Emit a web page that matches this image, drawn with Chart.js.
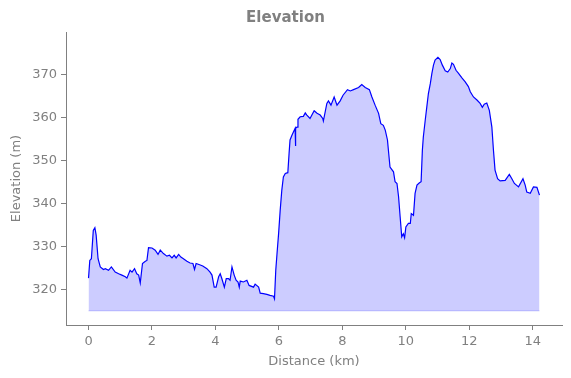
<!DOCTYPE html>
<html>
<head>
<meta charset="utf-8">
<script src="https://cdn.jsdelivr.net/npm/chart.js@4/dist/chart.umd.min.js"></script>
<style>
  html, body { margin: 0; padding: 0; background: #fff; }
  .chart-container { width: 571px; height: 378px; position: relative; }
</style>
</head>
<body>
<div class="chart-container">
  <canvas id="chart"></canvas>
</div>
<script>
// profile
const distanceKm = [
  0.00, 0.04, 0.09, 0.15, 0.20, 0.24, 0.30, 0.37, 0.47, 0.53, 0.63, 0.72, 0.84, 0.95,
  1.05, 1.16, 1.21, 1.31, 1.37, 1.45, 1.52, 1.58, 1.63, 1.70, 1.79, 1.84, 1.89, 2.00,
  2.10, 2.19, 2.26, 2.36, 2.47, 2.55, 2.63, 2.70, 2.76, 2.84, 2.91, 2.99, 3.10, 3.20,
  3.29, 3.34, 3.39, 3.50, 3.60, 3.73, 3.83, 3.89, 3.96, 4.02, 4.10, 4.15, 4.20, 4.28,
  4.34, 4.41, 4.46, 4.52, 4.59, 4.65, 4.71, 4.75, 4.78, 4.88, 4.99, 5.06, 5.20, 5.25,
  5.36, 5.41, 5.51, 5.62, 5.72, 5.83, 5.86, 5.90, 5.94, 5.99, 6.04, 6.09, 6.14, 6.20,
  6.28, 6.32, 6.35, 6.41, 6.46, 6.51, 6.52, 6.53, 6.57, 6.60, 6.67, 6.77, 6.83, 6.88,
  6.98, 7.11, 7.20, 7.30, 7.38, 7.40, 7.51, 7.56, 7.64, 7.74, 7.83, 7.93, 8.02, 8.16,
  8.25, 8.35, 8.51, 8.61, 8.72, 8.85, 8.93, 9.03, 9.14, 9.21, 9.29, 9.35, 9.42, 9.45,
  9.50, 9.61, 9.66, 9.72, 9.77, 9.82, 9.87, 9.92, 9.96, 10.00, 10.08, 10.14, 10.17, 10.24,
  10.29, 10.35, 10.42, 10.48, 10.52, 10.55, 10.61, 10.66, 10.71, 10.77, 10.82, 10.87, 10.92, 11.01,
  11.08, 11.15, 11.24, 11.32, 11.40, 11.45, 11.50, 11.58, 11.66, 11.76, 11.87, 11.97, 12.03, 12.13,
  12.24, 12.34, 12.41, 12.47, 12.55, 12.63, 12.71, 12.76, 12.81, 12.89, 12.97, 13.13, 13.26, 13.34,
  13.42, 13.55, 13.69, 13.76, 13.81, 13.92, 14.02, 14.13, 14.21
];
const elevationM = [
  322.6, 326.7, 327.1, 333.7, 334.3, 332.6, 327.1, 325.2, 324.6, 324.8, 324.4, 325.2, 324.0, 323.6,
  323.3, 322.9, 322.6, 324.4, 324.0, 324.8, 323.6, 323.3, 321.5, 326.0, 326.5, 326.7, 329.7, 329.6,
  329.1, 328.1, 329.1, 328.3, 327.7, 327.9, 327.3, 327.9, 327.3, 328.1, 327.5, 327.1, 326.5, 326.1,
  326.0, 324.6, 326.0, 325.7, 325.4, 324.8, 324.0, 323.3, 320.5, 320.5, 322.9, 323.6, 322.5, 320.5,
  322.5, 322.5, 322.1, 325.2, 323.3, 322.1, 321.7, 320.5, 321.9, 321.7, 322.1, 320.9, 320.5, 321.2,
  320.5, 319.1, 319.0, 318.8, 318.6, 318.4, 317.8, 324.4, 328.3, 333.0, 338.4, 343.0, 346.1, 346.9,
  347.1, 351.6, 354.7, 355.8, 356.6, 357.4, 353.3, 357.4, 357.7, 359.5, 360.1, 360.2, 361.0, 360.5,
  359.7, 361.5, 360.9, 360.5, 359.7, 359.1, 363.2, 363.8, 362.8, 364.7, 362.8, 363.8, 365.1, 366.4,
  366.1, 366.4, 366.9, 367.6, 366.9, 366.4, 364.7, 362.8, 360.9, 358.5, 358.1, 357.0, 354.7, 352.3,
  348.4, 347.3, 345.0, 344.6, 341.5, 336.8, 332.2, 332.9, 332.0, 334.5, 335.3, 335.3, 337.6, 337.2,
  342.3, 344.2, 344.7, 345.0, 352.3, 355.4, 359.3, 362.4, 365.5, 367.8, 370.2, 372.1, 373.3, 373.9,
  373.4, 372.1, 370.8, 370.5, 371.3, 372.6, 372.3, 370.9, 370.2, 369.2, 368.2, 367.1, 365.9, 364.7,
  364.0, 363.2, 362.3, 363.0, 363.3, 361.6, 357.7, 352.3, 347.7, 345.7, 345.2, 345.3, 346.7, 345.7,
  344.6, 343.8, 345.7, 344.2, 342.6, 342.3, 343.8, 343.7, 341.9
];
const fillBase = 315;
const xTickValues = [0, 2, 4, 6, 8, 10, 12, 14];
const yTickValues = [320, 330, 340, 350, 360, 370];

const grey = '#808080';
const font = { family: 'DejaVu Sans', size: 13 };

const profile = distanceKm.map((d, i) => ({ x: d, y: elevationM[i] }));
const base = [
  { x: distanceKm[0], y: fillBase },
  { x: distanceKm[distanceKm.length - 1], y: fillBase }
];

new Chart(document.getElementById('chart'), {
  type: 'line',
  data: {
    datasets: [
      {
        data: profile,
        borderColor: 'blue',
        borderWidth: 1.2,
        backgroundColor: 'rgba(0, 0, 255, 0.2)',
        fill: { value: fillBase },
        pointRadius: 0,
        tension: 0
      },
      {
        data: base,
        borderColor: 'rgba(0, 0, 255, 0.22)',
        borderWidth: 1,
        pointRadius: 0,
        fill: false
      }
    ]
  },
  options: {
    animation: false,
    responsive: true,
    maintainAspectRatio: false,
    // equal side padding keeps the title centred on the canvas
    layout: { padding: { left: 9, right: 9, top: 0, bottom: 0 } },
    plugins: {
      legend: { display: false },
      tooltip: { enabled: false },
      title: {
        display: true,
        text: 'Elevation',
        color: grey,
        font: { family: 'DejaVu Sans', size: 15, weight: 'bold' },
        padding: { top: 9, bottom: 5 }
      }
    },
    scales: {
      x: {
        type: 'linear',
        min: -0.71,
        max: 14.92,
        afterBuildTicks: (scale) => { scale.ticks = xTickValues.map(v => ({ value: v })); },
        afterFit: (scale) => { scale.height = 53; },
        ticks: { color: grey, font: font, padding: 4, maxRotation: 0 },
        grid: { display: true, drawOnChartArea: false, drawTicks: true, tickLength: 5, color: grey },
        border: { display: true, color: grey, width: 1 },
        title: { display: true, text: 'Distance (km)', color: grey, font: font, padding: { top: 2, bottom: 9 } }
      },
      y: {
        type: 'linear',
        min: 311.7,
        max: 379.8,
        afterBuildTicks: (scale) => { scale.ticks = yTickValues.map(v => ({ value: v })); },
        afterFit: (scale) => { scale.width = 57; },
        ticks: { color: grey, font: font, padding: 4 },
        grid: { display: true, drawOnChartArea: false, drawTicks: true, tickLength: 5, color: grey },
        border: { display: true, color: grey, width: 1 },
        title: { display: true, text: 'Elevation (m)', color: grey, font: font, padding: { top: 0, bottom: 4 } }
      }
    }
  }
});
</script>
</body>
</html>
